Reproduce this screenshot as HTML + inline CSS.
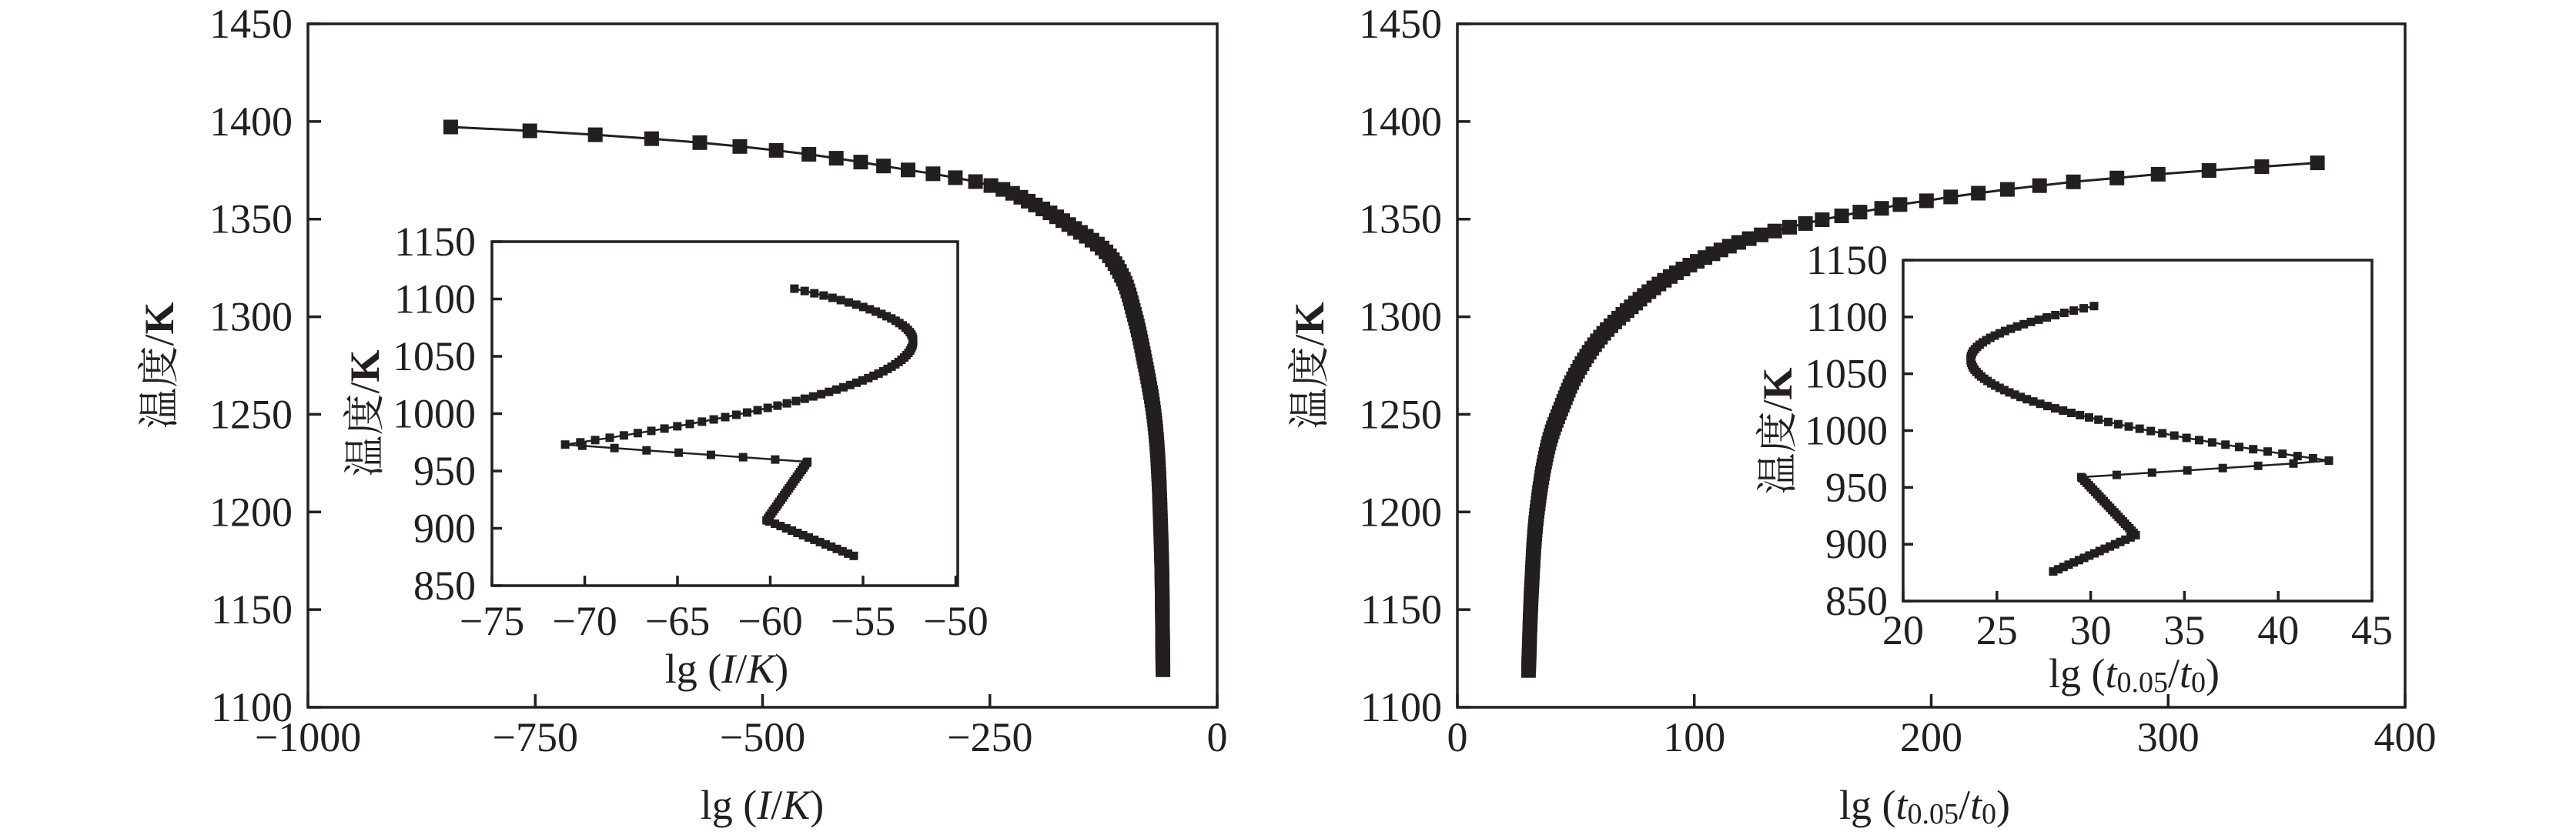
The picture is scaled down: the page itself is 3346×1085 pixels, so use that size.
<!DOCTYPE html>
<html><head><meta charset="utf-8">
<style>
html,body{margin:0;padding:0;background:#fff;}
svg{display:block;}
text{font-family:"Liberation Serif","Noto Serif CJK SC",serif;fill:#231f20;}
</style></head>
<body>
<svg id="s" width="3346" height="1085" viewBox="0 0 3346 1085" xmlns="http://www.w3.org/2000/svg">
<rect width="3346" height="1085" fill="#fff"/>
<g id="g"></g>
</svg>
<script>
const NS="http://www.w3.org/2000/svg";
const g=document.getElementById('g');
function el(t,a,txt){const e=document.createElementNS(NS,t);for(const k in a)e.setAttribute(k,a[k]);if(txt!==undefined)e.textContent=txt;g.appendChild(e);return e;}
// monotone cubic (Fritsch-Carlson)
function mono(tab){
  const n=tab.length,xs=tab.map(p=>p[0]),ys=tab.map(p=>p[1]);
  const d=[],m=[];
  for(let i=0;i<n-1;i++)d.push((ys[i+1]-ys[i])/(xs[i+1]-xs[i]));
  m[0]=d[0];m[n-1]=d[n-2];
  for(let i=1;i<n-1;i++){m[i]=(d[i-1]*d[i]<=0)?0:(d[i-1]+d[i])/2;}
  for(let i=0;i<n-1;i++){if(d[i]===0){m[i]=m[i+1]=0;continue;}
    const a=m[i]/d[i],b=m[i+1]/d[i],s=a*a+b*b;if(s>9){const t=3/Math.sqrt(s);m[i]=t*a*d[i];m[i+1]=t*b*d[i];}}
  return function(x){
    if(x<=xs[0])return ys[0];if(x>=xs[n-1])return ys[n-1];
    let i=0;while(x>xs[i+1])i++;
    const h=xs[i+1]-xs[i],t=(x-xs[i])/h,t2=t*t,t3=t2*t;
    return (2*t3-3*t2+1)*ys[i]+(t3-2*t2+t)*h*m[i]+(-2*t3+3*t2)*ys[i+1]+(t3-t2)*h*m[i+1];
  };
}
const C="#231f20";
function series(pts,X,Y,ms,lw){
  let d=pts.map((p,i)=>(i?'L':'M')+X(p[0]).toFixed(1)+' '+Y(p[1]).toFixed(1)).join(' ');
  el('path',{d:d,fill:'none',stroke:C,'stroke-width':lw});
  pts.forEach(p=>el('rect',{x:(X(p[0])-ms/2).toFixed(1),y:(Y(p[1])-ms/2).toFixed(1),width:ms,height:ms,fill:C}));
}
function axes(x0,y0,x1,y1,xt,yt,X,Y,tl,fs,xly,yx){
  el('rect',{x:x0,y:y0,width:x1-x0,height:y1-y0,fill:'#fff',stroke:C,'stroke-width':3.5});
  xt.forEach(v=>{const x=X(v[0]);el('line',{x1:x,y1:y1,x2:x,y2:y1-tl,stroke:C,'stroke-width':3.5});
    el('text',{x:x,y:xly,'font-size':fs,'text-anchor':'middle','dominant-baseline':'central'},v[1]);});
  yt.forEach(v=>{const y=Y(v);el('line',{x1:x0,y1:y,x2:x0+tl,y2:y,stroke:C,'stroke-width':3.5});
    el('text',{x:yx,y:y,'font-size':fs,'text-anchor':'end','dominant-baseline':'central'},String(v));});
}
function ytitle(x,y,fs){
  const t=el('text',{x:x,y:y,'font-size':fs,'text-anchor':'middle','dominant-baseline':'central',transform:`rotate(-90 ${x} ${y})`});
  t.innerHTML='温度/<tspan font-weight="bold">K</tspan>';
}
// ---------- Left main ----------
const LX=x=>400+(x+1000)*1.181, MY=T=>31+(1450-T)*2.5371;
axes(400,31,1581,919,[[-1000,'−1000'],[-750,'−750'],[-500,'−500'],[-250,'−250'],[0,'0']],
  [1100,1150,1200,1250,1300,1350,1400,1450],LX,MY,17,54,958,380);
const fL=mono([[1118,-59.6],[1187,-61.8],[1247,-68.8],[1278,-80],[1301,-91],[1321,-105],[1334.5,-125],[1344,-153],[1356,-195],[1368,-255],[1373,-310],[1375.2,-340],[1377.2,-367],[1379.2,-392],[1381.2,-419],[1383.2,-449],[1385.2,-485],[1387.2,-525],[1389.2,-569],[1391.2,-622],[1393.2,-684],[1395.2,-756],[1397.2,-843]]);
let pL=[];for(let T=1397.2;T>=1118;T-=2)pL.push([fL(T),T]);
series(pL,LX,MY,19,3);
// ---------- Right main ----------
const RX=x=>1893+x*3.0775;
axes(1893,31,3124,919,[[0,'0'],[100,'100'],[200,'200'],[300,'300'],[400,'400']],
  [1100,1150,1200,1250,1300,1350,1400,1450],RX,MY,17,54,958,1873);
const fR=mono([[1118,30],[1163,31.4],[1200,33.6],[1237,39],[1255,44.4],[1270,49.8],[1290,60.7],[1303,71.5],[1319,87.8],[1330,104],[1341,125.7],[1349.7,154],[1351.6,162],[1353.6,170],[1355.5,179],[1357.5,187],[1359.4,198],[1361.3,208],[1363.3,220],[1365.2,232],[1367.2,246],[1369.1,260],[1371,278],[1373,296],[1374.9,317],[1376.9,340],[1378.8,363]]);
let pR=[];for(let T=1378.8;T>=1118;T-=1.94)pR.push([fR(T),T]);
series(pR,RX,MY,19,3);
// ---------- Left inset ----------
const LIX=x=>639+(x+75)*24.1, LIY=T=>314+(1150-T)*1.49;
axes(639,314,1244,761,[[-75,'−75'],[-70,'−70'],[-65,'−65'],[-60,'−60'],[-55,'−55'],[-50,'−50']],
  [850,900,950,1000,1050,1100,1150],LIX,LIY,13,54,807,618);
let pLI=[];
for(let T=876;T<907;T+=2)pLI.push([-55.5+(-60.2+55.5)*(T-876)/31,T]);
for(let T=907;T<958;T+=2)pLI.push([-60.2+(2.2)*(T-907)/51,T]);
for(let T=958;T<973;T+=2)pLI.push([-58+(-13)*(T-958)/15,T]);
for(let T=973;T<=1110;T+=2){const d=T-1063.5;pLI.push([d<0?-52.3-0.00229*d*d:-52.3-0.00309*d*d,T]);}
series(pLI,LIX,LIY,11,2.5);
// ---------- Right inset ----------
const RIX=x=>2472+(x-20)*24.36, RIY=T=>338+(1150-T)*1.4767;
axes(2472,338,3081,781,[[20,'20'],[25,'25'],[30,'30'],[35,'35'],[40,'40'],[45,'45']],
  [850,900,950,1000,1050,1100,1150],RIX,RIY,13,54,819,2452);
let pRI=[];
for(let T=876;T<908;T+=2)pRI.push([28+(4.4)*(T-876)/32,T]);
for(let T=908;T<959;T+=2)pRI.push([32.4-(2.9)*(T-908)/51,T]);
for(let T=959;T<973;T+=2)pRI.push([29.5+(13.2)*(T-959)/14,T]);
for(let T=973.6;T<=1111;T+=2){const d=T-1063;pRI.push([d<0?23.6+0.00239*d*d:23.6+0.00303*d*d,T]);}
series(pRI,RIX,RIY,11,2.5);
// ---------- Titles ----------
ytitle(207,475,54); ytitle(1701,475,54); ytitle(474,537,54); ytitle(2309,560,54);
let t;
t=el('text',{x:990,y:1046,'font-size':54,'text-anchor':'middle','dominant-baseline':'central'});
t.innerHTML='lg (<tspan font-style="italic">I</tspan>/<tspan font-style="italic">K</tspan>)';
t=el('text',{x:944,y:869,'font-size':54,'text-anchor':'middle','dominant-baseline':'central'});
t.innerHTML='lg (<tspan font-style="italic">I</tspan>/<tspan font-style="italic">K</tspan>)';
t=el('text',{x:2500,y:1046,'font-size':54,'text-anchor':'middle','dominant-baseline':'central'});
t.innerHTML='lg (<tspan font-style="italic">t</tspan><tspan font-size="38" dy="12">0.05</tspan><tspan dy="-12">/</tspan><tspan font-style="italic">t</tspan><tspan font-size="38" dy="12">0</tspan><tspan dy="-12">)</tspan>';
t=el('text',{x:2772,y:875,'font-size':54,'text-anchor':'middle','dominant-baseline':'central'});
t.innerHTML='lg (<tspan font-style="italic">t</tspan><tspan font-size="38" dy="12">0.05</tspan><tspan dy="-12">/</tspan><tspan font-style="italic">t</tspan><tspan font-size="38" dy="12">0</tspan><tspan dy="-12">)</tspan>';
</script>
</body></html>
